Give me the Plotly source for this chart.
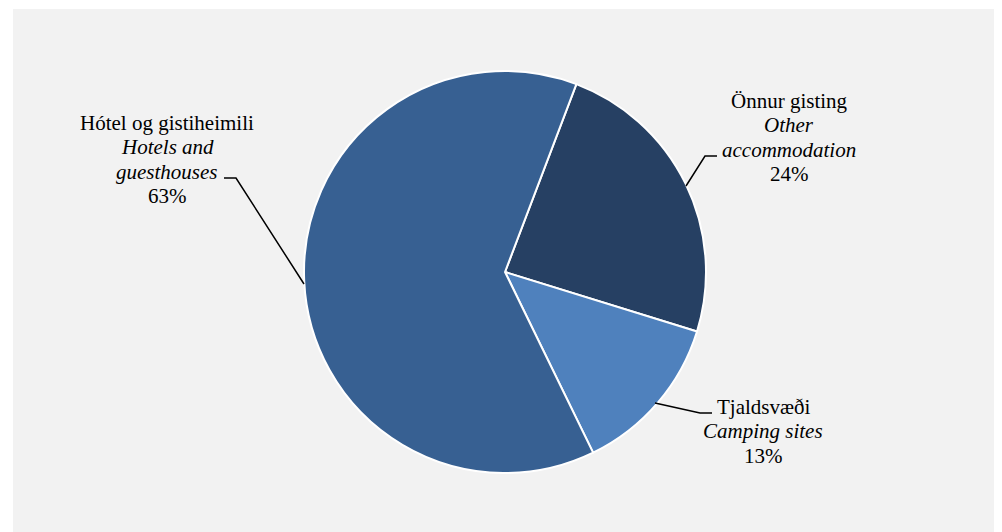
import plotly.graph_objects as go

categories_is = ["Önnur gisting", "Tjaldsvæði", "Hótel og gistiheimili"]
categories_en = [["Other", "accommodation"], ["Camping sites"], ["Hotels and", "guesthouses"]]
values = [24, 13, 63]
colors = ["#264063", "#4F81BD", "#376092"]

# page is offset by the browser's 8px body margin
OFF = 8
W, H = 994, 524
ML, MR, MT, MB = 5, 5, 1, 0
PW, PH = W - ML - MR, H - MT - MB


def px(x):
    return (x - OFF - ML) / PW


def py(y):
    return (OFF + H - MB - y) / PH


fig = go.Figure(go.Pie(
    labels=categories_is,
    values=values,
    sort=False,
    direction="clockwise",
    rotation=20.8,
    marker=dict(colors=colors, line=dict(color="white", width=2)),
    textinfo="none",
    hoverinfo="label+percent",
    showlegend=False,
    domain=dict(x=[px(304), px(706)], y=[py(473), py(71)]),
))

fig.add_shape(type="rect", xref="paper", yref="paper", x0=0, x1=1, y0=0, y1=1,
              fillcolor="#F2F2F2", line=dict(width=0), layer="below")

# (center x, baseline of first line) in page pixels
label_pos = [(789, 107), (763, 413), (167, 129)]
LINE = 24.3
FS = 21
for name_is, name_en, v, (lx, ly) in zip(categories_is, categories_en, values, label_pos):
    lines = [(name_is, False)] + [(t, True) for t in name_en] + [(f"{v}%", False)]
    for i, (t, ital) in enumerate(lines):
        fig.add_annotation(
            x=px(lx), y=py(ly + i * LINE - 6), xref="paper", yref="paper",
            text=f"<i>{t}</i>" if ital else t,
            showarrow=False, align="center", xanchor="center", yanchor="middle",
            font=dict(family="Liberation Serif", size=FS, color="black"),
        )

leaders = [
    [(717, 156), (705, 156), (686, 186)],
    [(712, 413), (700, 413), (655, 403)],
    [(224, 178), (236, 178), (304, 284)],
]
for pts in leaders:
    path = "M " + " L ".join(f"{px(x):.5f},{py(y):.5f}" for x, y in pts)
    fig.add_shape(type="path", xref="paper", yref="paper", path=path,
                  line=dict(color="black", width=1.5))

fig.update_layout(
    width=W, height=H,
    margin=dict(l=ML, r=MR, t=MT, b=MB),
    paper_bgcolor="white",
)

fig.write_html("out.html")
